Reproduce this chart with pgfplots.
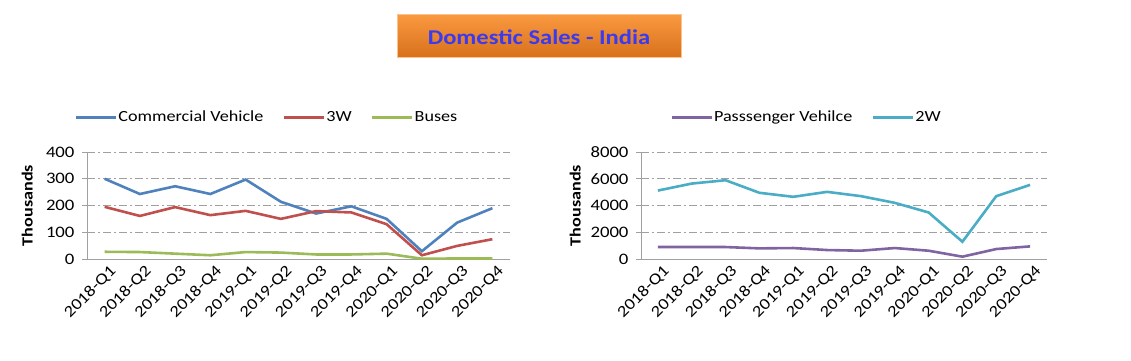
\documentclass[border=0pt]{standalone}
\usepackage{pgfplots}
\pgfplotsset{compat=1.18}
\usepackage{fontspec}
\setmainfont{Carlito}[FakeStretch=1.17]
\definecolor{cv}{HTML}{4F81BD}
\definecolor{tw}{HTML}{C0504D}
\definecolor{bus}{HTML}{9BBB59}
\definecolor{pv}{HTML}{8064A2}
\definecolor{ww}{HTML}{4BACC6}
\definecolor{ax}{HTML}{A0A0A0}
\definecolor{orTop}{HTML}{FA9A40}
\definecolor{orBot}{HTML}{D8701C}
\definecolor{ttl}{HTML}{3A3AF0}
\pgfplotsset{
  salesaxis/.style={
    scale only axis, height=107pt,
    xmin=-0.5, xmax=11.5, ymin=0,
    /pgf/number format/assume math mode=true,
    /pgf/number format/1000 sep={},
    xtick={0,...,11},
    xticklabels={2018-Q1,2018-Q2,2018-Q3,2018-Q4,2019-Q1,2019-Q2,2019-Q3,2019-Q4,2020-Q1,2020-Q2,2020-Q3,2020-Q4},
    x tick label style={rotate=45, anchor=north east, font=\fontsize{16}{16}\selectfont, inner sep=1pt, xshift=4pt, yshift=-2pt},
    y tick label style={font=\fontsize{16}{16}\selectfont, xshift=-4pt},
    xtick style={draw=none},
    minor xtick={-0.5,0.5,...,11.5},
    minor x tick style={ax, line width=1pt},
    minor tick length=5pt,
    major tick length=5pt,
    tick align=outside,
    ytick style={ax, line width=1pt},
    axis x line*=bottom, axis y line*=left,
    axis line style={ax, line width=1pt, -},
    ymajorgrids, grid style={ax, line width=0.9pt, dash pattern=on 8pt off 3pt on 2pt off 3pt},
    ylabel={\bfseries Thousands}, ylabel style={font=\fontsize{15.5}{15.5}\selectfont},
    legend style={draw=none, fill=none, font=\fontsize{15.5}{15.5}\selectfont, legend columns=-1,
      /tikz/every even column/.append style={column sep=18pt},
      /tikz/every odd column/.append style={column sep=0pt},
      nodes={inner xsep=1pt}},
    legend image code/.code={\draw[#1, line width=3pt] (0pt,0pt) -- (40pt,0pt);},
    every axis plot/.append style={line width=2.6pt, no marks},
  }
}
\begin{document}
\begin{tikzpicture}[x=1pt,y=1pt]
\useasboundingbox (0,0) rectangle (1131,360);
\shade[top color=orTop, bottom color=orBot, draw=orTop!60!white] (397,303) rectangle (681,346);
\node[text=ttl, font=\fontsize{21}{21}\selectfont\bfseries] at (539,323) {Domestic Sales - India};
\begin{axis}[salesaxis, at={(87pt,101pt)}, anchor=south west, width=423pt,
  ymax=400, ytick={0,100,200,300,400},
  ylabel style={at={(axis description cs:-0.12,0.5)}},
  legend style={at={(axis description cs:0.424,1.327)}, anchor=center}]
\addplot[cv] coordinates {(0,300)(1,243)(2,272)(3,243)(4,297)(5,214)(6,170)(7,197)(8,150)(9,29)(10,136)(11,190)};
\addlegendentry{Commercial Vehicle}
\addplot[tw] coordinates {(0,195)(1,161)(2,194)(3,164)(4,180)(5,150)(6,179)(7,174)(8,130)(9,14)(10,49)(11,74)};
\addlegendentry{3W}
\addplot[bus] coordinates {(0,27)(1,26)(2,20)(3,14)(4,26)(5,24)(6,17)(7,17)(8,20)(9,1)(10,2)(11,2)};
\addlegendentry{Buses}
\end{axis}
\begin{axis}[salesaxis, at={(641pt,101pt)}, anchor=south west, width=406pt,
  ymax=8000, ytick={0,2000,4000,6000,8000},
  ylabel style={at={(axis description cs:-0.14,0.5)}},
  legend style={at={(axis description cs:0.406,1.327)}, anchor=center}]
\addplot[pv] coordinates {(0,894)(1,894)(2,894)(3,795)(4,820)(5,670)(6,620)(7,820)(8,620)(9,174)(10,745)(11,944)};
\addlegendentry{Passsenger Vehilce}
\addplot[ww] coordinates {(0,5118)(1,5640)(2,5890)(3,4950)(4,4650)(5,5020)(6,4700)(7,4200)(8,3480)(9,1290)(10,4700)(11,5540)};
\addlegendentry{2W}
\end{axis}
\end{tikzpicture}
\end{document}
